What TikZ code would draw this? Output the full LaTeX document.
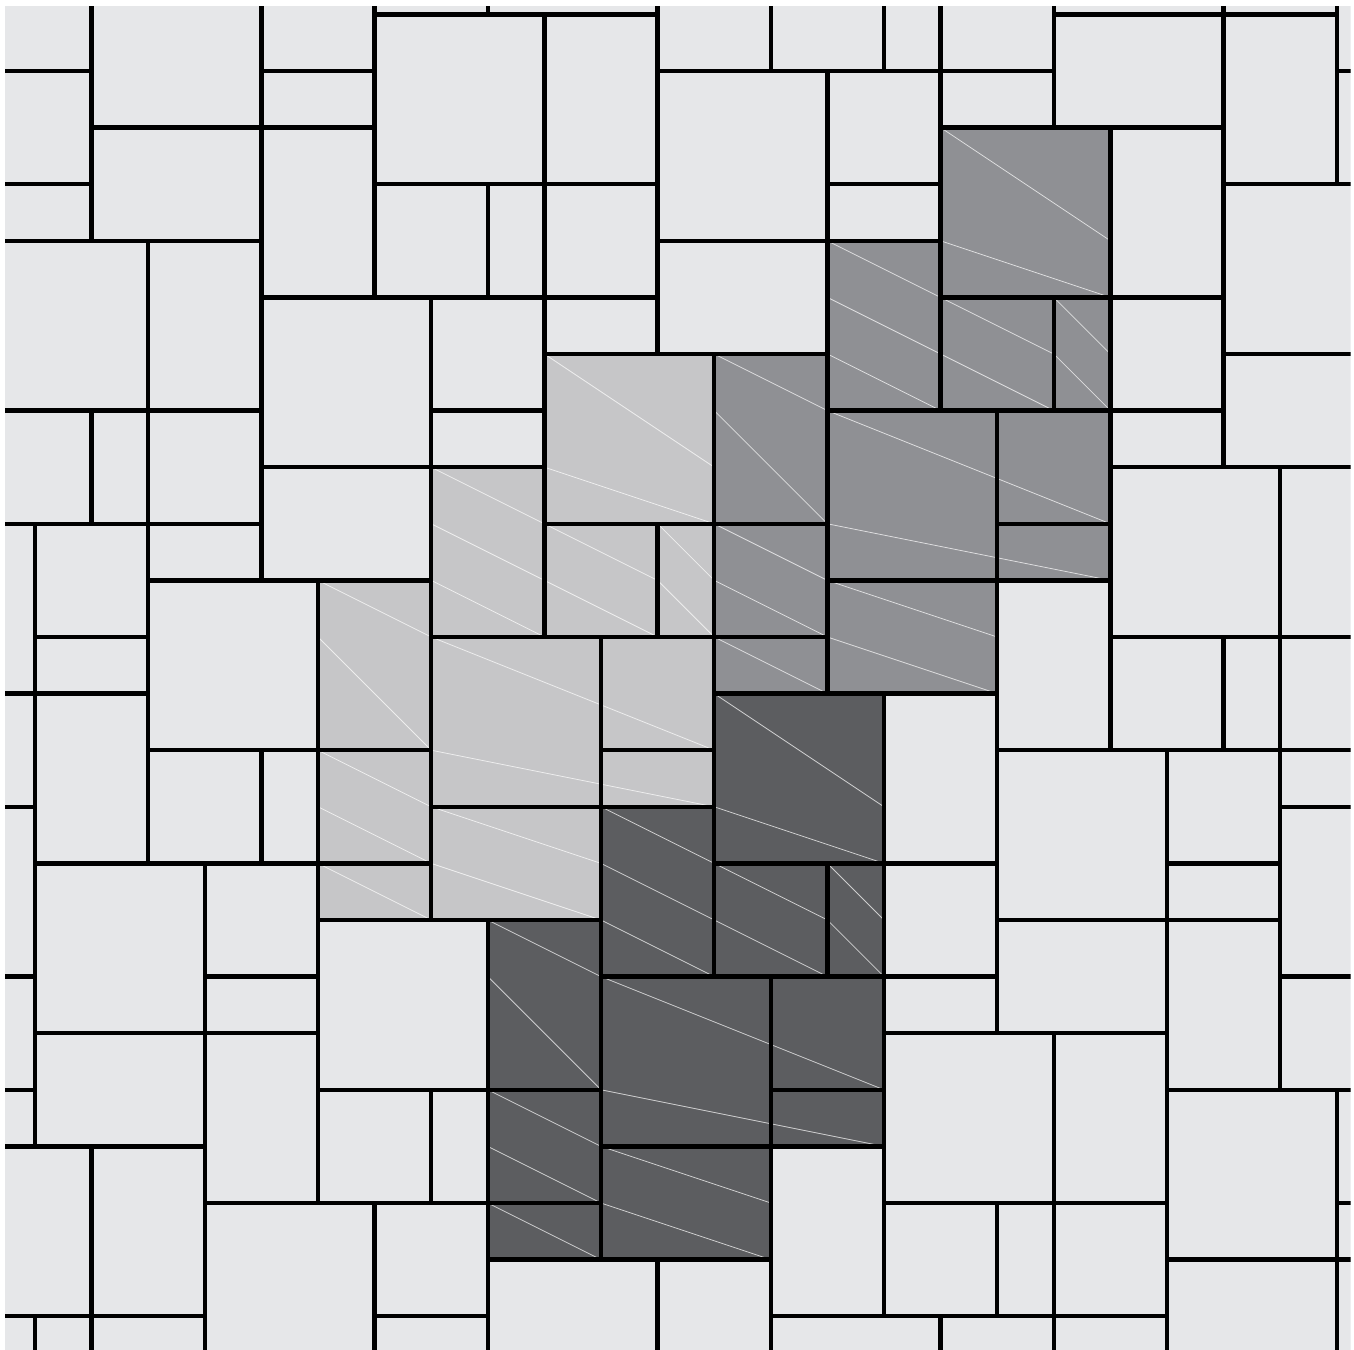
\documentclass[tikz,border=0pt]{standalone}
\definecolor{tilelight}{RGB}{230,231,233}
\definecolor{tilegrayA}{RGB}{198,198,200}
\definecolor{tilegrayB}{RGB}{143,144,148}
\definecolor{tilegrayC}{RGB}{92,93,96}
\begin{document}
\begin{tikzpicture}[x=1cm,y=-1cm,
  edge/.style={line width=2.2pt, line cap=rect, black},
  seam/.style={white, line width=0.4pt, opacity=0.7},
  lightzone/.style={fill=tilegrayA},
  midzone/.style={fill=tilegrayB},
  darkzone/.style={fill=tilegrayC}]
\fill[white] (-0.6184,-1.2544) rectangle (23.304,22.5844);
\useasboundingbox (-0.6184,-1.2544) rectangle (23.304,22.5844);
\begin{scope}
\clip (-0.530,-1.136) rectangle (23.245,22.5844);
\fill[tilelight] (-1,-2) rectangle (24,23);
% light grey band
\foreach \a/\b/\c/\d in {9/5/12/8, 9/8/12/10, 7/7/9/10, 5/9/7/15, 7/10/12/13, 7/13/10/15}
  \path[lightzone] (\a,\b) rectangle (\c,\d);
% mid grey band
\foreach \a/\b/\c/\d in {16/1/19/4, 14/3/16/6, 16/4/19/6, 12/5/14/8, 14/6/17/9, 17/6/19/9, 12/8/14/11, 14/9/17/11}
  \path[midzone] (\a,\b) rectangle (\c,\d);
% dark grey band
\foreach \a/\b/\c/\d in {12/11/15/14, 10/13/12/16, 12/14/15/16, 8/15/10/21, 10/16/15/19, 10/19/13/21}
  \path[darkzone] (\a,\b) rectangle (\c,\d);
% faint seams inside the grey bands
\foreach \a/\b/\c/\d in {
  9/5/12/7, 9/7/12/8, 7/7/9/8, 7/8/9/9, 7/9/9/10, 9/8/11/9, 9/9/11/10,
  11/8/12/9, 11/9/12/10, 5/9/7/10, 5/10/7/12, 5/12/7/13, 5/13/7/14,
  5/14/7/15, 7/10/12/12, 7/12/12/13, 7/13/10/14, 7/14/10/15,
  16/1/19/3, 16/3/19/4, 14/3/16/4, 14/4/16/5, 14/5/16/6, 12/5/14/6,
  12/6/14/8, 16/4/18/5, 16/5/18/6, 18/4/19/5, 18/5/19/6, 14/6/19/8,
  14/8/19/9, 14/9/17/10, 14/10/17/11, 12/8/14/9, 12/9/14/10, 12/10/14/11,
  12/11/15/13, 12/13/15/14, 10/13/12/14, 10/14/12/15, 10/15/12/16,
  12/14/14/15, 12/15/14/16, 14/14/15/15, 14/15/15/16, 8/15/10/16,
  8/16/10/18, 8/18/10/19, 8/19/10/20, 8/20/10/21, 10/16/15/18,
  10/18/15/19, 10/19/13/20, 10/20/13/21}
  \draw[seam] (\a,\b) -- (\c,\d);
% horizontal joints
\foreach \j/\a/\b in {-1/6/11, -1/18/23,
  0/-1/1, 0/4/6, 0/11/18, 0/23/24,
  1/1/6, 1/16/21,
  2/-1/1, 2/6/11, 2/14/16, 2/21/24,
  3/-1/4, 3/11/16,
  4/4/11, 4/16/21,
  5/9/14, 5/21/24,
  6/-1/4, 6/7/9, 6/14/21,
  7/4/9, 7/19/24,
  8/-1/4, 8/9/14, 8/17/19,
  9/2/7, 9/14/19,
  10/0/2, 10/7/14, 10/19/24,
  11/-1/2, 11/12/17,
  12/2/7, 12/10/12, 12/17/24,
  13/-1/0, 13/7/12, 13/22/24,
  14/0/7, 14/12/17, 14/20/22,
  15/5/10, 15/17/22,
  16/-1/0, 16/3/5, 16/10/17, 16/22/24,
  17/0/5, 17/15/20,
  18/-1/0, 18/5/10, 18/13/15, 18/20/24,
  19/-1/3, 19/10/15,
  20/3/10, 20/15/20, 20/23/24,
  21/8/13, 21/20/24,
  22/-1/3, 22/6/8, 22/13/20}
  \draw[edge] (\a,\j) -- (\b,\j);
% vertical joints
\foreach \i/\a/\b in {0/8/19, 0/22/23,
  1/-2/3, 1/6/8, 1/19/23,
  2/3/14,
  3/14/23,
  4/-2/9, 4/12/14,
  5/9/20,
  6/-2/4, 6/20/23,
  7/4/15, 7/18/20,
  8/-2/-1, 8/2/4, 8/15/23,
  9/-1/10,
  10/10/21,
  11/-2/5, 11/8/10, 11/21/23,
  12/5/16,
  13/-2/0, 13/16/23,
  14/0/11, 14/14/16,
  15/-2/0, 15/11/22,
  16/-2/6, 16/22/23,
  17/6/17, 17/20/22,
  18/-2/1, 18/4/6, 18/17/23,
  19/1/12,
  20/12/23,
  21/-2/7, 21/10/12,
  22/7/18,
  23/-2/2, 23/18/23}
  \draw[edge] (\i,\a) -- (\i,\b);
\end{scope}
\end{tikzpicture}
\end{document}
